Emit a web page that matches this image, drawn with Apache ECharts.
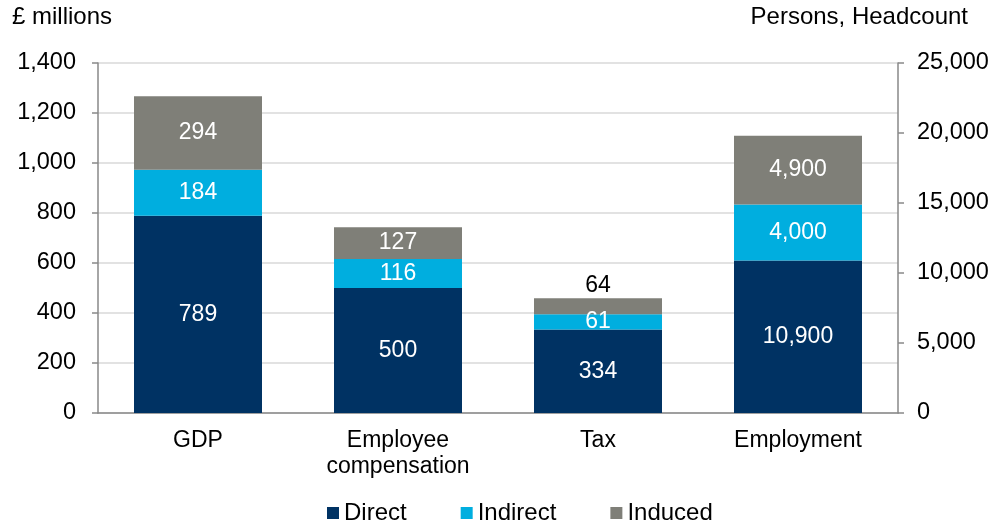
<!DOCTYPE html>
<html lang="en">
<head>
    <meta charset="UTF-8">
    <title>Economic impact</title>
    <style>
        html, body {margin: 0; padding: 0; background: #fff;}
    </style>
</head>
<body>
<div id="main" style="width: 1005px;height: 520px"></div>
</body>
<script src="https://cdn.jsdelivr.net/npm/echarts@6/dist/echarts.min.js"></script>
<script>
    // categories and values
    const categories = ['GDP', 'Employee\ncompensation', 'Tax', 'Employment']
    const direct = [789, 500, 334, 10900]
    const indirect = [184, 116, 61, 4000]
    const induced = [294, 127, 64, 4900]
    // the last category is plotted against the right (headcount) axis
    const rightAxisCats = ['Employment']

    const colors = {Direct: '#003263', Indirect: '#00aedf', Induced: '#7f7f78'}
    const font = 'Arial, "Liberation Sans", sans-serif'
    const fs = 23

    function fmt(v) {
        return Number(v).toLocaleString('en-US')
    }

    /**
     * split one list into the part on the left axis and the part on the right axis
     */
    function pick(values, right) {
        return values.map((v, i) => {
            const isRight = rightAxisCats.indexOf(categories[i]) !== -1
            return isRight === right ? v : '-'
        })
    }

    function makeSeries(name, values, right) {
        return {
            name: name,
            type: 'bar',
            stack: right ? 'persons' : 'money',
            yAxisIndex: right ? 1 : 0,
            barWidth: 128,
            barGap: '-100%',
            itemStyle: {color: colors[name]},
            label: {
                show: true,
                position: 'inside',
                color: '#fff',
                fontSize: fs,
                fontFamily: font,
                formatter: p => fmt(p.value)
            },
            data: pick(values, right)
        }
    }

    let series = []
    ;[['Direct', direct], ['Indirect', indirect], ['Induced', induced]].forEach(item => {
        series.push(makeSeries(item[0], item[1], false))
        series.push(makeSeries(item[0], item[1], true))
    })
    // the small Tax "Induced" piece has its label sitting above the bar
    let taxIdx = categories.indexOf('Tax')
    series[4].data[taxIdx] = {
        value: induced[taxIdx],
        label: {position: 'top', color: '#000', distance: 1}
    }

    let chart = echarts.init(document.getElementById('main'))
    let option = {
        animation: false,
        backgroundColor: '#fff',
        textStyle: {fontFamily: font},
        grid: {left: 98, right: 107, top: 63, bottom: 107},
        legend: {
            data: ['Direct', 'Indirect', 'Induced'],
            left: 322,
            top: 496,
            icon: 'rect',
            itemWidth: 12,
            itemHeight: 12,
            itemGap: 54,
            textStyle: {fontSize: 24, color: '#000', fontFamily: font}
        },
        graphic: [
            {type: 'text', left: 12, top: 5, style: {text: '£ millions', fontSize: 24, fill: '#000', fontFamily: font}},
            {type: 'text', right: 37, top: 5, style: {text: 'Persons, Headcount', fontSize: 24, fill: '#000', fontFamily: font}}
        ],
        xAxis: {
            type: 'category',
            data: categories,
            axisLine: {lineStyle: {color: '#898989', width: 1.5}},
            axisTick: {show: false},
            axisLabel: {fontSize: fs, color: '#000', margin: 15, lineHeight: 26, fontFamily: font}
        },
        yAxis: [
            {
                type: 'value',
                min: 0,
                max: 1400,
                interval: 200,
                axisLine: {show: true, lineStyle: {color: '#898989', width: 1.5}},
                axisTick: {show: true, length: 6, lineStyle: {color: '#898989', width: 1.5}},
                splitLine: {lineStyle: {color: '#d9d9d9', width: 1.5}},
                axisLabel: {fontSize: 23.5, color: '#000', margin: 22, fontFamily: font, formatter: fmt}
            },
            {
                type: 'value',
                position: 'right',
                min: 0,
                max: 25000,
                interval: 5000,
                axisLine: {show: true, lineStyle: {color: '#898989', width: 1.5}},
                axisTick: {show: true, length: 6, lineStyle: {color: '#898989', width: 1.5}},
                splitLine: {show: false},
                axisLabel: {fontSize: 23.5, color: '#000', margin: 19, fontFamily: font, formatter: fmt}
            }
        ],
        series: series
    }
    chart.setOption(option)
</script>
</html>
